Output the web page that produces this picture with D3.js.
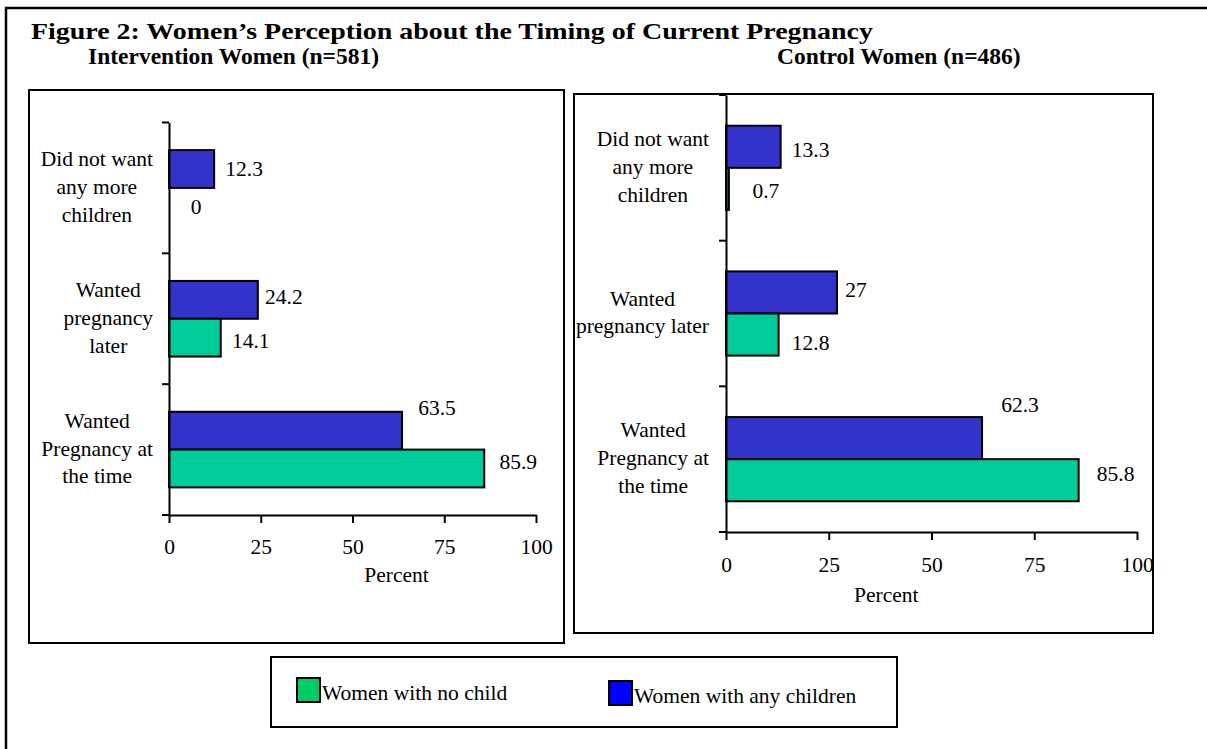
<!DOCTYPE html>
<html>
<head>
<meta charset="utf-8">
<script src="https://cdn.jsdelivr.net/npm/d3@7"></script>
<style>
  body { margin: 0; background: #fff; }
  svg { display: block; font-family: "Liberation Serif", "Times New Roman", serif; }
</style>
</head>
<body>
<svg id="chart" width="1207" height="749"></svg>
<script>
// ---------------- data ----------------
const categories = ["Did not want any more children", "Wanted pregnancy later", "Wanted Pregnancy at the time"];
const leftCategoryLines = [["Did not want", "any more", "children"], ["Wanted", "pregnancy", "later"], ["Wanted", "Pregnancy at", "the time"]];
const rightCategoryLines = [["Did not want", "any more", "children"], ["Wanted", "pregnancy later"], ["Wanted", "Pregnancy at", "the time"]];
const seriesNames = ["Women with any children", "Women with no child"];
const interventionAnyChildren = [12.3, 24.2, 63.5];
const interventionNoChild = [0, 14.1, 85.9];
const controlAnyChildren = [13.3, 27, 62.3];
const controlNoChild = [0.7, 12.8, 85.8];
const xTickValues = [0, 25, 50, 75, 100];
const titleText = "Figure 2: Women\u2019s Perception about the Timing of Current Pregnancy";
const leftSubtitle = "Intervention Women (n=581)";
const rightSubtitle = "Control Women (n=486)";
const axisTitle = "Percent";
const legendOrder = ["Women with no child", "Women with any children"];

// ---------------- styles / layout ----------------
const barColors = {"Women with any children": "#3333CC", "Women with no child": "#00CC99"};
const legendColors = {"Women with any children": "#0000FF", "Women with no child": "#00CC66"};
// label nudges: [dx from bar end to label centre, dy from bar centre to baseline]
const leftNudges = [[[30, 7], [27, 7]], [[26, 4], [30, 10]], [[35, -16], [34, 1]]];
const rightNudges = [[[30, 10], [37, 9]], [[19, 5], [32, 15]], [[38, -26], [37, 1]]];

const svg = d3.select("#chart");
const FS = 21.5;

// outer frame
svg.append("rect").attr("x", 6).attr("y", 8).attr("width", 1230).attr("height", 800)
  .attr("fill", "none").attr("stroke", "#000").attr("stroke-width", 2.5);

svg.append("text").attr("x", 31).attr("y", 39).attr("font-size", 24).attr("font-weight", "bold")
  .attr("textLength", 842).attr("lengthAdjust", "spacingAndGlyphs")
  .text(titleText);

function panel(cfg) {
  const g = svg.append("g");
  g.append("rect").attr("x", cfg.box[0]).attr("y", cfg.box[1]).attr("width", cfg.box[2]).attr("height", cfg.box[3])
    .attr("fill", "none").attr("stroke", "#000").attr("stroke-width", 2);
  g.append("text").attr("x", cfg.subX).attr("y", 64).attr("font-size", 23.5).attr("font-weight", "bold")
    .text(cfg.subtitle);

  const x = d3.scaleLinear().domain([0, 100]).range([cfg.x0, cfg.x1]);
  const y = d3.scaleBand().domain(categories).range([cfg.y0, cfg.y1]).paddingInner(0).paddingOuter(0);
  const ys = d3.scaleBand().domain(seriesNames).range([0, y.bandwidth()]).paddingInner(0).paddingOuter(0.73);

  // bars
  const rows = [];
  categories.forEach((c, i) => {
    rows.push({c, i, s: seriesNames[0], si: 0, v: cfg.any[i]});
    rows.push({c, i, s: seriesNames[1], si: 1, v: cfg.none[i]});
  });
  g.selectAll("rect.bar").data(rows).join("rect").attr("class", "bar")
    .attr("x", x(0)).attr("y", d => y(d.c) + ys(d.s))
    .attr("width", d => x(d.v) - x(0)).attr("height", ys.bandwidth())
    .attr("fill", d => barColors[d.s]).attr("stroke", "#000").attr("stroke-width", 2);

  // value labels
  g.selectAll("text.val").data(rows).join("text").attr("class", "val")
    .attr("x", d => x(d.v) + cfg.nudges[d.i][d.si][0])
    .attr("y", d => y(d.c) + ys(d.s) + ys.bandwidth() / 2 + cfg.nudges[d.i][d.si][1])
    .attr("text-anchor", "middle").attr("font-size", FS).text(d => d3.format("")(d.v));

  // x axis
  const xa = g.append("g").attr("transform", `translate(0,${cfg.y1})`)
    .call(d3.axisBottom(x).tickValues(xTickValues).tickSize(8).tickSizeOuter(0).tickFormat(d3.format("d")));
  xa.selectAll("path, line").attr("stroke", "#000").attr("stroke-width", 2);
  xa.selectAll("text").attr("dy", null).attr("y", cfg.tickLabelOffset).attr("font-size", FS)
    .attr("font-family", "Liberation Serif").attr("fill", "#000");

  // y axis: line + ticks at band boundaries
  const ya = g.append("g").attr("transform", `translate(${cfg.x0},0)`)
    .call(d3.axisLeft(y).tickSize(0).tickSizeOuter(0).tickFormat(""));
  ya.select("path").attr("stroke", "#000").attr("stroke-width", 2);
  const bounds = categories.map(c => y(c)).concat([cfg.y1]);
  g.selectAll("line.ytick").data(bounds).join("line").attr("class", "ytick")
    .attr("x1", cfg.x0 - 7).attr("x2", cfg.x0).attr("y1", d => d).attr("y2", d => d)
    .attr("stroke", "#000").attr("stroke-width", 2);

  // category labels (block right-aligned, lines centred in block)
  categories.forEach((c, i) => {
    const lines = cfg.lines[i];
    const tg = g.append("g");
    const texts = tg.selectAll("text").data(lines).join("text").attr("font-size", FS).text(d => d);
    const widths = [];
    texts.each(function() { widths.push(this.getComputedTextLength()); });
    const bw = d3.max(widths);
    const cx = cfg.labelRight - bw / 2;
    const cy = y(c) + y.bandwidth() / 2 + 6;
    const n = lines.length;
    texts.attr("x", cx).attr("text-anchor", "middle")
      .attr("y", (d, k) => cy + (k - (n - 1) / 2) * 27.8);
  });

  g.append("text").attr("x", x(cfg.percentAt)).attr("y", cfg.y1 + cfg.percentOffset)
    .attr("text-anchor", "middle").attr("font-size", FS).text(axisTitle);
}

panel({
  box: [29, 90, 535, 553], subtitle: leftSubtitle, subX: 88,
  x0: 169, x1: 536, y0: 122.5, y1: 515,
  any: interventionAnyChildren, none: interventionNoChild, nudges: leftNudges,
  lines: leftCategoryLines, labelRight: 153, tickLabelOffset: 39, percentAt: 62, percentOffset: 67
});
panel({
  box: [574, 94, 579, 539], subtitle: rightSubtitle, subX: 777,
  x0: 726, x1: 1137, y0: 95, y1: 532,
  any: controlAnyChildren, none: controlNoChild, nudges: rightNudges,
  lines: rightCategoryLines, labelRight: 709, tickLabelOffset: 40, percentAt: 39, percentOffset: 70
});

// legend
const lg = svg.append("g");
lg.append("rect").attr("x", 271).attr("y", 657).attr("width", 626).attr("height", 70)
  .attr("fill", "none").attr("stroke", "#000").attr("stroke-width", 2);
const legendX = d3.scalePoint().domain(legendOrder).range([297, 609]);
const li = lg.selectAll("g.li").data(legendOrder).join("g").attr("class", "li")
  .attr("transform", (d, i) => `translate(${legendX(d)},${678 + i * 3})`);
li.append("rect").attr("width", 23).attr("height", 24).attr("fill", d => legendColors[d])
  .attr("stroke", "#000").attr("stroke-width", 2);
li.append("text").attr("x", 25).attr("y", 22).attr("font-size", FS).text(d => d);
</script>
</body>
</html>
